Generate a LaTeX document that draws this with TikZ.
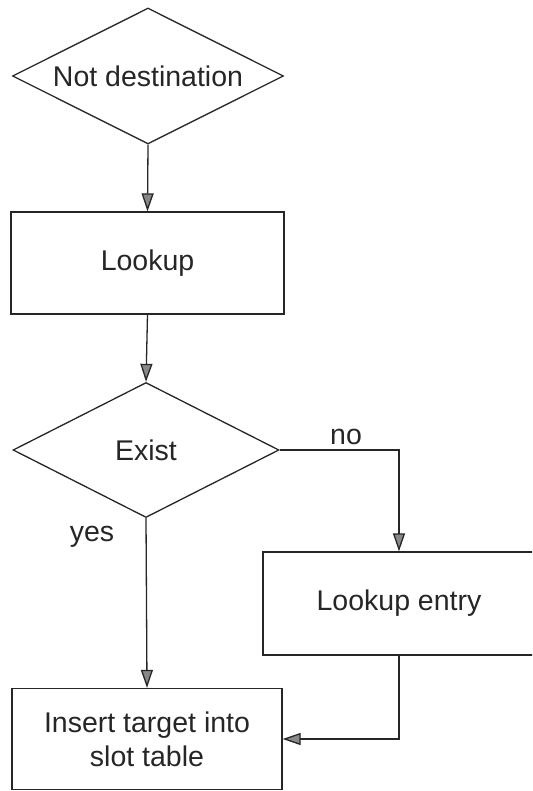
\documentclass[tikz,border=0pt]{standalone}
\usepackage{fontspec}
\setmainfont{Liberation Sans}
\usetikzlibrary{shapes.geometric,arrows.meta}
\definecolor{ink}{HTML}{262626}
\tikzset{
  every node/.style={font=\fontsize{28.5}{34}\selectfont, text=ink},
  box/.style={draw=ink, line width=1.3pt, rectangle, inner sep=0pt, align=center},
  decision/.style={draw=ink, line width=1.3pt, diamond, inner sep=0pt, align=center},
  flow/.style={draw=ink, line width=1.3pt, -{Triangle[length=18pt,width=12pt,fill=ink!55]}},
  lbl/.style={inner sep=0pt}
}
\begin{document}
\begin{tikzpicture}[x=1pt,y=-1pt]
\useasboundingbox (0,0) rectangle (532,791);
\clip (0,0) rectangle (532,791);
\node[decision, aspect=2, minimum width=271pt, minimum height=136pt] (nd) at (148,76) {Not destination};
\node[box, minimum width=273pt, minimum height=102pt] (lk) at (147.5,263) {Lookup};
\node[decision, aspect=2, minimum width=266pt, minimum height=135pt] (ex) at (146,450) {Exist};
\node[box, minimum width=272pt, minimum height=103pt] (le) at (399,603.5) {Lookup entry};
\node[box, minimum width=270pt, minimum height=101pt] (ins) at (147,739) {Insert target into\\slot table};
\node[lbl] (no) at (346,437) {no};
\node[lbl] (yes) at (92,537) {yes};
\draw[flow] (nd.south) -- (lk.north);
\draw[flow] (lk.south) -- (ex.north);
\draw[flow] (ex.east) -| (le.north);
\draw[flow] (ex.south) -- (ins.north);
\draw[flow] (le.south) |- (ins.east);
\end{tikzpicture}
\end{document}
